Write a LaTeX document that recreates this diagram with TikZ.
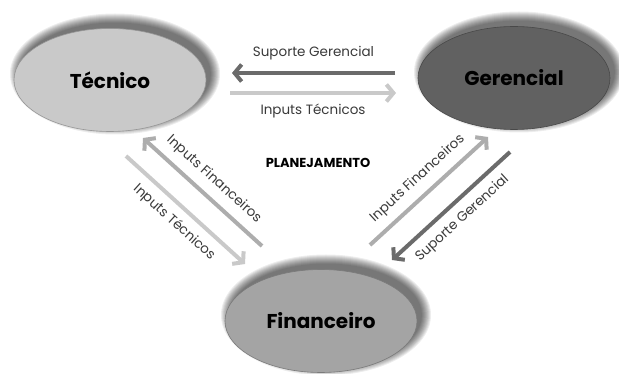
\documentclass[tikz,border=0pt]{standalone}
\usepackage{fontspec}
\setmainfont{Poppins}
\usetikzlibrary{arrows.meta,shapes.geometric,backgrounds}

\begin{document}
\begin{tikzpicture}[x=1pt,y=-1pt,
    area/.style={ellipse,line width=0.6pt,minimum width=192pt,minimum height=103pt,inner sep=0pt,
      font=\fontsize{20}{24}\selectfont\bfseries},
    flow/.style={line width=4pt,-{Straight Barb[length=7pt,width=17pt]}},
    lbl/.style={font=\fontsize{13.5}{16}\selectfont,text=TextGray,inner sep=1pt}]
  %--- Theme colors ---
  \definecolor{TecFill}{HTML}{C9C9C9}     % Tecnico
  \definecolor{GerFill}{HTML}{616161}     % Gerencial
  \definecolor{FinFill}{HTML}{A4A4A4}     % Financeiro
  \definecolor{DarkFlow}{HTML}{6B6B6B}    % suporte gerencial
  \definecolor{LightFlow}{HTML}{C9C9C9}   % inputs tecnicos
  \definecolor{MidFlow}{HTML}{ADADAD}     % inputs financeiros
  \definecolor{TextGray}{HTML}{3A3A3A}

  \useasboundingbox (0,0) rectangle (619,374);

  %--- Areas ---
  \node[area,fill=TecFill,draw=TecFill!75!black] (tecnico) at (110,80) {Técnico};
  \node[area,fill=GerFill,draw=GerFill!75!black] (gerencial) at (514,78) {Gerencial};
  \node[area,fill=FinFill,draw=FinFill!75!black] (financeiro) at (321,321) {Financeiro};

  %--- Soft shadows, up and to the right ---
  \begin{pgfonlayer}{background}
    \fill[white] (0,0) rectangle (619,374);
    \foreach \n in {tecnico,gerencial,financeiro}
      \foreach \k in {0,...,9}
        \fill[black,opacity=0.07] ([shift={(5,-6)}]\n.center)
          ellipse [x radius={96pt+\k pt}, y radius={51.5pt+\k pt}];
  \end{pgfonlayer}

  %--- Arrow ends ---
  \coordinate (tg0) at (395,73);  \coordinate (tg1) at (232,73);
  \coordinate (gt0) at (230,93);  \coordinate (gt1) at (396,93);
  \coordinate (ft0) at (262,246); \coordinate (ft1) at (143,138);
  \coordinate (tf0) at (126,156); \coordinate (tf1) at (245,264);
  \coordinate (fg0) at (370,245); \coordinate (fg1) at (488,137);
  \coordinate (gf0) at (510,152); \coordinate (gf1) at (392,260);

  %--- Gerencial <-> Tecnico ---
  \draw[flow,DarkFlow] (tg0) -- node[lbl,above=10pt] {Suporte Gerencial} (tg1);
  \draw[flow,LightFlow] (gt0) -- node[lbl,below=8pt] {Inputs Técnicos} (gt1);

  %--- Tecnico <-> Financeiro ---
  \draw[flow,MidFlow] (ft0) -- node[lbl,sloped,above=7pt] {Inputs Financeiros} (ft1);
  \draw[flow,LightFlow] (tf0) -- node[lbl,sloped,below=7pt] {Inputs Técnicos} (tf1);

  %--- Financeiro <-> Gerencial ---
  \draw[flow,MidFlow] (fg0) -- node[lbl,sloped,above=7pt] {Inputs Financeiros} (fg1);
  \draw[flow,DarkFlow] (gf0) -- node[lbl,sloped,below=7pt] {Suporte Gerencial} (gf1);

  %--- Center label ---
  \node[font=\fontsize{13}{15}\selectfont\bfseries] (plan) at (318,163) {PLANEJAMENTO};
\end{tikzpicture}
\end{document}
